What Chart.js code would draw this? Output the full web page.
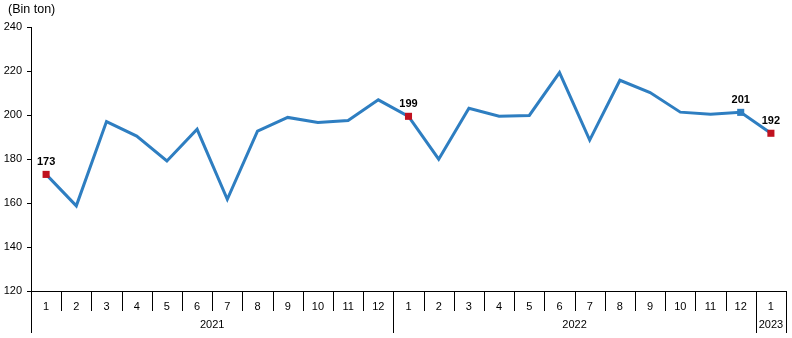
<!DOCTYPE html>
<html>
<head>
<meta charset="utf-8">
<script src="https://cdn.jsdelivr.net/npm/chart.js@4/dist/chart.umd.min.js"></script>
<style>
  body { margin: 0; background: #fff; }
  canvas { display: block; }
</style>
</head>
<body>
<canvas id="chart" width="792" height="338"></canvas>
<script>
// --- data ---
const months = ['1','2','3','4','5','6','7','8','9','10','11','12',
                '1','2','3','4','5','6','7','8','9','10','11','12',
                '1'];
const years = ['2021', '2022', '2023'];
const yearSpans = [12, 12, 1];
const values = [173, 158.7, 197, 190.4, 179.1, 193.5, 161.7, 192.7, 198.9, 196.6, 197.5, 206.9,
                199.4, 179.9, 203.1, 199.4, 199.8, 219.3, 188.6, 215.8, 210.2, 201.3, 200.3, 201.2,
                191.7];
const yTicks = [120, 140, 160, 180, 200, 220, 240];
const unitLabel = '(Bin ton)';
const markedIdx = [0, 12, 23, 24];
const markedColors = ['#C0121F', '#C0121F', '#2E7EC1', '#C0121F'];

const FONT = "'Liberation Sans', Arial, sans-serif";
const LINE_BLUE = '#2E7EC1';

/* --- unit label, month/year separators, year labels, value labels --- */
const axisDecor = {
  id: 'axisDecor',
  afterDraw(chart) {
    const ctx = chart.ctx;
    const xs = chart.scales.x;
    const top = xs.top;

    ctx.save();
    ctx.fillStyle = '#000';
    ctx.font = '12.5px ' + FONT;
    ctx.textAlign = 'left';
    ctx.textBaseline = 'middle';
    ctx.fillText(unitLabel, 8, 10);

    // year boundaries
    const bounds = [0];
    yearSpans.forEach(s => bounds.push(bounds[bounds.length - 1] + s));

    ctx.strokeStyle = '#000';
    ctx.lineWidth = 1;
    for (let i = 0; i <= months.length; i++) {
      const x = Math.round(xs.getPixelForValue(i - 0.5)) + 0.5;
      const long = bounds.includes(i);
      ctx.beginPath();
      ctx.moveTo(x, top);
      ctx.lineTo(x, top + (long ? 42 : 20));
      ctx.stroke();
    }

    ctx.font = '11px ' + FONT;
    ctx.textAlign = 'center';
    years.forEach((y, k) => {
      const x0 = xs.getPixelForValue(bounds[k] - 0.5);
      const x1 = xs.getPixelForValue(bounds[k + 1] - 0.5);
      ctx.fillText(y, (x0 + x1) / 2, top + 34);
    });

    // value labels over the marked points
    const meta = chart.getDatasetMeta(0);
    ctx.font = 'bold 11px ' + FONT;
    markedIdx.forEach(i => {
      const pt = meta.data[i];
      ctx.fillText(Math.round(values[i]), pt.x, pt.y - 12);
    });
    ctx.restore();
  }
};

new Chart(document.getElementById('chart'), {
  type: 'line',
  data: {
    labels: months,
    datasets: [{
      data: values,
      borderColor: LINE_BLUE,
      borderWidth: 3,
      tension: 0,
      pointStyle: 'rect',
      pointBorderWidth: 0,
      pointRadius: c => markedIdx.includes(c.dataIndex) ? 5 : 0,
      pointHoverRadius: c => markedIdx.includes(c.dataIndex) ? 5 : 0,
      pointBackgroundColor: c => {
        const k = markedIdx.indexOf(c.dataIndex);
        return k >= 0 ? markedColors[k] : LINE_BLUE;
      },
      pointBorderColor: 'rgba(0,0,0,0)'
    }]
  },
  options: {
    responsive: false,
    animation: false,
    layout: { padding: { left: 0, right: 6, top: 27, bottom: 0 } },
    plugins: {
      legend: { display: false },
      tooltip: { enabled: false },
      title: { display: false }
    },
    scales: {
      x: {
        type: 'category',
        offset: true,
        grid: { display: false },
        border: { display: true, color: '#000', width: 1 },
        ticks: {
          color: '#000',
          padding: 1,
          maxRotation: 0,
          autoSkip: false,
          font: { family: FONT, size: 11 }
        },
        afterFit: s => { s.height = 47; }
      },
      y: {
        min: 120,
        max: 240,
        afterBuildTicks: s => { s.ticks = yTicks.map(v => ({ value: v })); },
        grid: { display: true, drawOnChartArea: false, drawTicks: true, tickLength: 4, color: '#000' },
        border: { display: true, color: '#000', width: 1 },
        ticks: {
          color: '#000',
          padding: 5,
          font: { family: FONT, size: 11 }
        },
        afterFit: s => { s.width = 31; }
      }
    }
  },
  plugins: [axisDecor]
});
</script>
</body>
</html>
